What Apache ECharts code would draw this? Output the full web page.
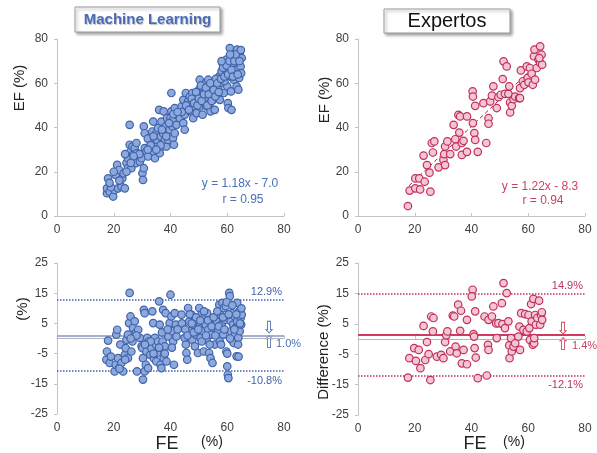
<!DOCTYPE html>
<html><head><meta charset="utf-8">
<script src="https://cdn.jsdelivr.net/npm/echarts@6/dist/echarts.min.js"></script>
<style>html,body{margin:0;padding:0;background:#fff}#c{width:597px;height:453px}</style>
</head><body><div id="c"></div>
<script>
// ---- Data ----
const xTicks = [0, 20, 40, 60, 80];
const efTicks = [0, 20, 40, 60, 80];
const diffTicks = [-25, -15, -5, 5, 15, 25];

// Machine Learning: FE vs EF
const mlScatter = [[17.6,10.3],[17.6,12.5],[18,17],[18.6,11],[19.8,8.8],[20.3,11.8],[20.7,18.6],[21.2,23.1],[21.5,12.5],[21.9,20.8],[22.7,13.3],[23,17],[23.5,19.3],[23.9,12.5],[24.5,23.9],[25,26.1],[25,21.6],[25.6,32.2],[25.6,41.2],[25.9,29.1],[26.2,21.6],[26.6,31.4],[26.8,27.6],[27.4,30.7],[27.8,23.9],[28.2,28.4],[29.2,24.6],[29.8,26.1],[30.1,19.3],[30.3,16.3],[30.6,21.6],[30.9,30.7],[30.6,40.5],[30.9,37.4],[31.5,29.1],[32.1,26.9],[32.7,31.4],[33.3,34.4],[33.6,38.2],[33.9,42.7],[34.1,29.1],[34.5,26.1],[34.8,31.4],[35,37.4],[35.3,34.4],[35.6,39.7],[36,48],[36.2,28.4],[36.5,35.9],[36.8,42.7],[37.2,31.4],[37.4,37.4],[37.6,47.3],[38,34.4],[38.3,40.5],[38.6,31.4],[38.8,44.2],[39.2,34.4],[39.7,39],[40,44.2],[40.3,47.3],[40.3,55.6],[40.7,40.5],[40.9,43.5],[40.9,35.2],[41.2,32.2],[41.5,48.8],[41.5,37.4],[41.9,45.8],[42.1,41.2],[43.3,44.2],[43.9,49.5],[44.5,52.5],[44.5,42],[45,39],[45,45.8],[45.4,55.6],[45.6,48.8],[46.2,51.8],[46.8,54],[47,47.3],[47.4,51],[47.7,55.6],[48,44.2],[48.6,49.5],[48.9,53.3],[49.2,46.5],[49.7,51.8],[50.1,57.1],[50.3,49.5],[50.3,61.6],[50.9,54],[51.3,45.8],[51.5,57.8],[51.7,51.8],[52.1,55.6],[52.4,60.1],[52.7,49.5],[52.9,53.3],[53.3,61.6],[53.6,57.1],[53.9,51],[54.1,47.3],[54.4,54.8],[54.8,59.3],[55,52.5],[55.6,48],[56.2,55.6],[56.8,57.8],[57.2,63.1],[57.4,52.5],[57.6,60.1],[58,65.4],[58.3,69.2],[58.6,61.6],[58.8,55.6],[59.2,66.9],[59.5,63.9],[59.7,70.7],[60,58.6],[60.2,51],[60.4,48.8],[60.7,67.6],[60.9,75.9],[61.2,63.1],[61.3,56.3],[61.5,48],[61.7,70],[62.1,66.1],[62.3,61.6],[62.7,72.5],[62.7,64.3],[63,68.4],[63.3,58.6],[63.5,75.2],[63.5,66.1],[63.9,70.7],[64.2,62.4],[64.4,73.7],[64.7,67.6],[64.9,64.6],[65.1,71.4],[63.9,57.1],[20,20],[24,28],[28,33],[32,35],[56,62],[60,65],[62,69],[59,61],
  [44,47],[45.5,50],[46.5,48],[47.5,53],[48.3,51],[49,56],[49.5,50],[50,53],[50.7,59],[51,52],[51.8,55],[52.5,58],[53,50],[53.5,55],[54,60],[54.5,52],[55.2,57],[55.8,54],[56.5,60],[57,56],[57.8,62],[58.5,67],[59,63],[59.8,68],[60.3,64],[60.8,70],[61.5,66],[62,63],[62.5,70],[63,73],[63.7,64],[64.3,70],[64.8,75],[61,73],[58,70],[36.5,32],[37,39],[38.5,36],[39.5,42],[41,46],[42.5,47],[33,32],[34,36],[35,30],[32,30],[29,28],[27,27],[26,24],[24.5,20],[22,16],[19,13],[18.5,15]];

// Expertos: FE vs EF
const exScatter = [[17.6,4.5],[18.2,11.5],[20.2,17],[21.6,17],[20.2,12.5],[21.9,12],[23.5,15.5],[23.1,27.3],[24.3,23],[25.2,19.6],[25.5,11],[26,33],[26.9,33.7],[26.4,28.7],[28.4,22],[30.1,25.4],[30.7,23],[30.4,28],[30.7,31.4],[31.5,33.7],[32.5,28],[33.7,41.2],[34.3,34.7],[34.6,31.4],[35.4,45.7],[36,45],[35.7,37.7],[36.6,33],[37.2,34],[36.6,27.6],[38.4,45],[38.4,29],[40.4,56.3],[40.5,54],[40.5,42],[41,37.5],[41.3,49.8],[41.3,34.4],[42.2,29],[44.2,51],[45.2,33],[46,44.2],[46,41.7],[46.6,51.8],[47.2,54.4],[47.7,58.6],[48.9,48.8],[49.5,53.7],[50.3,54.8],[51,61.9],[51.3,69.9],[51.8,55.2],[52.4,67.6],[53,55.2],[53.3,58.6],[53.6,51.3],[53.6,46.8],[54.2,49.8],[54.8,52.8],[55.4,54],[56.8,53.3],[57.1,57.8],[57.4,65.8],[58.1,60.9],[58.6,59.3],[59.5,67.6],[59.8,62.4],[60.1,60.4],[60.6,66.9],[61.2,64.3],[61.6,59.3],[62,72.2],[62.2,75.2],[62.4,61.6],[63,66.9],[63.6,70.7],[64.2,76.7],[64.2,69.2],[64.7,72.9],[64.9,68.4],[63.9,71.4],[57.1,53.3]];
const exRegLine = [[18, 13.7], [64.5, 70.4]];

// Bland-Altman differences
const mlDiff = [[17.4,-7],[17.6,-4.3],[18,-0.7],[18.6,-8.1],[20.3,-10.9],[20.7,-8.7],[20.9,1.3],[21.2,2.9],[21.5,-6.5],[21.9,-9.8],[22.3,-2],[22.7,-8.1],[23.3,-10.9],[23.9,-5.4],[24.2,-3.2],[24.5,-0.4],[25,-6.5],[25,1.3],[25.4,5.1],[25.6,15.1],[25.9,7.3],[26.2,-4.3],[26.6,-1],[26.8,3.5],[27.4,5.7],[27.8,1.8],[28.2,-10.9],[28.6,2.9],[29.2,0.2],[29.8,-2.6],[30.1,-3.2],[30.3,-6.5],[30.3,-13.6],[30.6,9.5],[30.9,8.4],[30.9,-10.9],[31.3,-8.7],[31.5,-4.3],[31.8,0.2],[32.1,-9.8],[32.4,-1],[32.9,-5.4],[33.3,-3.2],[33.6,9],[33.9,5.1],[34.1,-6.5],[34.5,0.2],[34.8,-2],[35,-7.6],[35.3,-4.8],[35.6,-1],[36,12.3],[36.2,4.6],[36.5,-8.7],[36.8,-9.8],[37.2,-1],[37.4,9.5],[37.6,-6.5],[38,-2.6],[38.3,8.4],[38.6,-7.6],[39.2,0.7],[39.7,5.1],[40,14.5],[40.3,7.3],[40.7,2.4],[40.9,-1],[41.2,-8.7],[41.5,8.4],[41.9,4.6],[42.1,0.7],[43.9,7.9],[44.5,3.5],[45,0.2],[45.4,-2],[45.6,-4.8],[45.9,-7],[46.2,10.1],[46.6,5.7],[47,2.4],[47.4,7.9],[47.7,-0.4],[48,4.6],[48.6,-2.6],[48.9,1.3],[49.2,6.2],[49.7,-4.8],[50.1,10.1],[50.3,4],[50.6,0.2],[50.9,7.9],[51.3,5.7],[51.5,2.4],[51.7,-4.3],[52.1,7.3],[52.4,4.6],[52.7,-0.4],[52.9,8.4],[53.3,2.9],[53.6,-4.8],[53.9,5.7],[54.1,-6.5],[54.4,1.3],[54.8,-8.1],[55,4],[55.6,-2],[56.2,5.7],[56.8,2.4],[57.2,11.2],[57.4,-1],[57.6,7.9],[58,4.6],[58.3,11.8],[58.6,1.3],[58.8,10.1],[59.2,6.2],[59.5,10.7],[59.7,-4.3],[60,-9.2],[60.2,-12],[60.4,-13.1],[60.7,15.1],[60.9,14],[61.2,5.7],[61.3,2.4],[61.5,-0.4],[61.7,8.4],[62.1,4.6],[62.3,-1.5],[62.7,7.3],[62.7,1.3],[63,3.5],[63.3,-5.9],[63.5,11.8],[63.5,5.7],[63.9,0.2],[64.2,9],[64.4,2.4],[64.7,6.8],[64.9,4.6],[65.1,7.9],
  [44,5],[45.2,3],[46,1],[46.8,8],[47.5,5],[48.2,2],[49,7],[49.8,3],[50.5,6],[51,-1],[51.8,9],[52.5,1],[53.2,6],[53.8,-2],[54.5,4],[55.2,7],[55.8,1],[56.5,9],[57,4],[57.8,-2],[58.5,7],[59,3],[59.8,12],[60.5,8],[61,0],[61.8,11],[62.5,3],[63.2,8],[63.8,-2],[64.5,5],[65,10],[60,-5],[64,-6],[36,-3],[37,2],[38,-5],[39,3],[40.5,-3],[42.5,3],[33,-1],[34,-5],[31,-2],[28,1],[26,0],[24,-7],[22,-10],[19,-6]];
const exDiff = [[17.6,-12.7],[18.1,-6.3],[19.8,-3],[20.4,-7.2],[21.4,-3.6],[22,-9.6],[23.1,4.3],[23.7,-6.9],[24.3,-1],[24.9,-5],[25.5,-13.5],[25.8,7.4],[26.6,6.9],[26.4,2.5],[27.8,-5.8],[29.3,-5.2],[30.1,-6.3],[30.7,-1],[31.1,1.2],[31.5,2.5],[32.5,-4.1],[33.4,7.7],[33.9,7.4],[34.4,-2.5],[34.8,-4.7],[35.3,11.3],[36,2.7],[36.3,9.3],[36.6,-8],[37.2,-3.6],[38.4,6.3],[38.4,-8.3],[40.4,16.2],[40.1,14],[40.7,1.6],[40.9,0.8],[41.3,9.1],[41.1,-3],[41.5,-6.1],[42.2,-12.9],[44.6,7.4],[45.4,-12],[46,6.3],[45.8,-1.9],[46,-3.6],[47.2,7.4],[47.7,10.7],[48.7,5.1],[48.9,0.3],[49.5,5.2],[50.7,11.8],[50.9,4.9],[51.3,18.4],[51.8,3.6],[52.4,15.1],[53,5.8],[53.3,-2.1],[53.4,-6.3],[53.9,0.3],[54.2,-4.1],[54.8,-2.5],[55.4,-1.4],[56.5,0.8],[56.9,4.1],[57.1,-3.6],[57.5,8.5],[58.3,3],[58.9,8.2],[59.5,2.5],[60.1,7.9],[60.4,3.6],[60.6,-0.3],[61,11.5],[61.2,5.8],[61.6,-1.9],[61.8,13.2],[62.1,-1.4],[62.4,7.9],[62.7,4.7],[63.2,6.9],[63.8,12.6],[64.2,4.7],[64.5,7.9],[64.8,8.8],[64.9,6.3],[62.1,0.3]];

const mlLimits = {upper: 12.9, mean: 1.0, lower: -10.8};
const exLimits = {upper: 14.9, mean: 1.4, lower: -12.1};

// ---- Chart ----
const FONT = 'Liberation Sans';
const BLUE = '#3f63aa', BLUE_FILL = '#8da8dc', BLUE_TXT = '#4a70b8';
const RED = '#c0305a', RED_FILL = '#f4c6d4', RED_TXT = '#d0405e';

function xAx(grid) {
  return {gridIndex: grid, type: 'value', min: 0, max: 80, interval: 20,
    axisLine: {lineStyle: {color: '#c4c4c4'}},
    axisTick: {show: true, inside: true, length: 3, lineStyle: {color: '#c4c4c4'}},
    splitLine: {show: false},
    axisLabel: {color: '#404040', fontFamily: FONT, fontSize: 12, margin: 8}};
}
function yAx(grid, lo, hi, step) {
  return {gridIndex: grid, type: 'value', min: lo, max: hi, interval: step,
    axisLine: {show: true, lineStyle: {color: '#c4c4c4'}},
    axisTick: {show: true, length: 3, lineStyle: {color: '#c4c4c4'}},
    splitLine: {show: false},
    axisLabel: {color: '#404040', fontFamily: FONT, fontSize: 12, margin: 9}};
}
function scat(idx, data, fill, border) {
  return {type: 'scatter', xAxisIndex: idx, yAxisIndex: idx, data: data, symbolSize: 7.5,
    itemStyle: {color: fill, borderColor: border, borderWidth: 1.2, opacity: 1}, z: 5};
}
function limitLines(idx, lim, col, meanCol, meanW) {
  return {type: 'line', xAxisIndex: idx, yAxisIndex: idx, data: [], z: 3,
    markLine: {silent: true, symbol: 'none', animation: false,
      data: [
        {yAxis: 0, lineStyle: {color: '#b5b5b5', type: 'solid', width: 1}, label: {show: false}},
        {yAxis: lim.mean, lineStyle: {color: meanCol, type: 'solid', width: meanW}, label: {show: false}},
        {yAxis: lim.upper, lineStyle: {color: col, type: 'dotted', width: 1.5},
          label: {show: true, position: 'insideEndTop', formatter: lim.upper.toFixed(1) + '%', color: col, fontFamily: FONT, fontSize: 11, distance: [2, 2]}},
        {yAxis: lim.lower, lineStyle: {color: col, type: 'dotted', width: 1.5},
          label: {show: true, position: 'insideEndBottom', formatter: lim.lower.toFixed(1) + '%', color: col, fontFamily: FONT, fontSize: 11, distance: [2, 4]}}
      ]}};
}

const chart = echarts.init(document.getElementById('c'), null, {renderer: 'canvas'});
chart.setOption({
  animation: false,
  backgroundColor: '#fff',
  grid: [
    {left: 57, top: 39, width: 227, height: 177},
    {left: 358, top: 39, width: 227, height: 177},
    {left: 57, top: 263, width: 227, height: 151},
    {left: 358, top: 263, width: 227, height: 152}
  ],
  xAxis: [xAx(0), xAx(1), xAx(2), xAx(3)],
  yAxis: [yAx(0, efTicks[0], efTicks[efTicks.length-1], 20), yAx(1, efTicks[0], efTicks[efTicks.length-1], 20),
          yAx(2, diffTicks[0], diffTicks[diffTicks.length-1], 10), yAx(3, diffTicks[0], diffTicks[diffTicks.length-1], 10)],
  series: [
    scat(0, mlScatter, BLUE_FILL, BLUE),
    {type: 'line', xAxisIndex: 1, yAxisIndex: 1, data: exRegLine, symbol: 'none', z: 4,
      lineStyle: {color: '#a02048', type: [4, 3], width: 1}},
    scat(1, exScatter, RED_FILL, RED),
    limitLines(2, mlLimits, BLUE, '#8496c4', 1.5),
    scat(2, mlDiff, BLUE_FILL, BLUE),
    limitLines(3, exLimits, RED, '#d03a5c', 2),
    scat(3, exDiff, RED_FILL, RED)
  ],
  graphic: [
    // title boxes
    {type: 'rect', shape: {x: 75, y: 7, width: 145, height: 25}, style: {fill: '#fff', stroke: '#9a9a9a', lineWidth: 1, shadowBlur: 3, shadowOffsetX: 2, shadowOffsetY: 2, shadowColor: 'rgba(0,0,0,0.35)'}},
    {type: 'text', x: 147.5, y: 20, style: {text: 'Machine Learning', fill: '#4a6cb8', font: 'bold 15px "Liberation Sans"', textAlign: 'center', textVerticalAlign: 'middle', textShadowColor: 'rgba(0,0,0,0.25)', textShadowOffsetX: 1, textShadowOffsetY: 1, textShadowBlur: 1}},
    {type: 'rect', shape: {x: 384, y: 9, width: 126, height: 24}, style: {fill: '#fff', stroke: '#9a9a9a', lineWidth: 1, shadowBlur: 3, shadowOffsetX: 2, shadowOffsetY: 2, shadowColor: 'rgba(0,0,0,0.35)'}},
    {type: 'text', x: 447, y: 21, style: {text: 'Expertos', fill: '#111', font: '20px "Liberation Sans"', textAlign: 'center', textVerticalAlign: 'middle'}},
    // axis titles
    {type: 'text', x: 20, y: 88, rotation: Math.PI/2, style: {text: 'EF (%)', fill: '#222', font: '15px "Liberation Sans"', textAlign: 'center', textVerticalAlign: 'middle'}},
    {type: 'text', x: 325, y: 100, rotation: Math.PI/2, style: {text: 'EF (%)', fill: '#222', font: '15px "Liberation Sans"', textAlign: 'center', textVerticalAlign: 'middle'}},
    {type: 'text', x: 23, y: 309, rotation: Math.PI/2, style: {text: '(%)', fill: '#222', font: '15px "Liberation Sans"', textAlign: 'center', textVerticalAlign: 'middle'}},
    {type: 'text', x: 324, y: 352, rotation: Math.PI/2, style: {text: 'Difference (%)', fill: '#222', font: '15px "Liberation Sans"', textAlign: 'center', textVerticalAlign: 'middle'}},
    {type: 'text', x: 167, y: 444, style: {text: 'FE', fill: '#222', font: '18px "Liberation Sans"', textAlign: 'center', textVerticalAlign: 'middle'}},
    {type: 'text', x: 212, y: 442, style: {text: '(%)', fill: '#222', font: '14px "Liberation Sans"', textAlign: 'center', textVerticalAlign: 'middle'}},
    {type: 'text', x: 475, y: 444, style: {text: 'FE', fill: '#222', font: '18px "Liberation Sans"', textAlign: 'center', textVerticalAlign: 'middle'}},
    {type: 'text', x: 514, y: 442, style: {text: '(%)', fill: '#222', font: '14px "Liberation Sans"', textAlign: 'center', textVerticalAlign: 'middle'}},
    // regression annotations
    {type: 'text', x: 240, y: 184, style: {text: 'y = 1.18x - 7.0', fill: BLUE_TXT, font: '12px "Liberation Sans"', textAlign: 'center', textVerticalAlign: 'middle'}},
    {type: 'text', x: 243, y: 200, style: {text: 'r = 0.95', fill: BLUE_TXT, font: '12px "Liberation Sans"', textAlign: 'center', textVerticalAlign: 'middle'}},
    {type: 'text', x: 540, y: 187, style: {text: 'y = 1.22x - 8.3', fill: RED_TXT, font: '12px "Liberation Sans"', textAlign: 'center', textVerticalAlign: 'middle'}},
    {type: 'text', x: 543, y: 201, style: {text: 'r = 0.94', fill: RED_TXT, font: '12px "Liberation Sans"', textAlign: 'center', textVerticalAlign: 'middle'}},
    // mean difference arrows + labels
    {type: 'text', x: 269, y: 329, style: {text: '\u21E9', fill: BLUE_TXT, font: '17px "DejaVu Sans"', textAlign: 'center', textVerticalAlign: 'middle'}},
    {type: 'text', x: 269, y: 344, style: {text: '\u21E7', fill: BLUE_TXT, font: '17px "DejaVu Sans"', textAlign: 'center', textVerticalAlign: 'middle'}},
    {type: 'text', x: 276, y: 344, style: {text: '1.0%', fill: BLUE_TXT, font: '11px "Liberation Sans"', textAlign: 'left', textVerticalAlign: 'middle'}},
    {type: 'text', x: 563, y: 330, style: {text: '\u21E9', fill: RED_TXT, font: '17px "DejaVu Sans"', textAlign: 'center', textVerticalAlign: 'middle'}},
    {type: 'text', x: 563, y: 346, style: {text: '\u21E7', fill: RED_TXT, font: '17px "DejaVu Sans"', textAlign: 'center', textVerticalAlign: 'middle'}},
    {type: 'text', x: 572, y: 346, style: {text: '1.4%', fill: RED_TXT, font: '11px "Liberation Sans"', textAlign: 'left', textVerticalAlign: 'middle'}}
  ]
});
</script>
</body></html>
